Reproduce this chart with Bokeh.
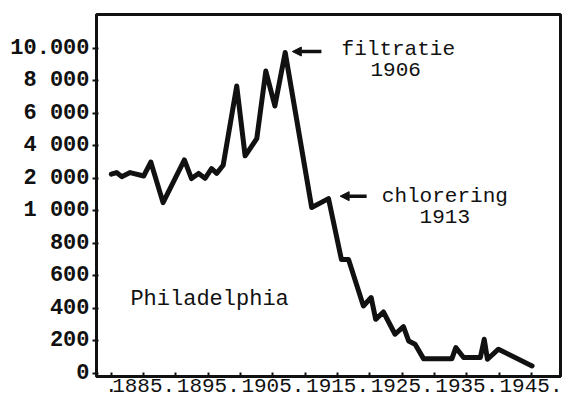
import numpy as np
from bokeh.plotting import figure
from bokeh.models import FixedTicker, Arrow, NormalHead, Label, ColumnDataSource, Range1d
from bokeh.embed import file_html
from bokeh.resources import INLINE

# --- data ---
years = [1880.0, 1880.8, 1881.6, 1882.9, 1885.0, 1886.1, 1888.0, 1891.3, 1892.4, 1893.5,
         1894.5, 1895.5, 1896.3, 1897.3, 1899.4, 1900.7, 1902.5, 1903.9, 1905.3, 1906.9,
         1911.0, 1913.6, 1915.6, 1916.7, 1919.0, 1920.2, 1920.9, 1922.1, 1923.9, 1925.2,
         1926.0, 1927.0, 1928.3, 1932.7, 1933.3, 1934.5, 1937.1, 1937.7, 1938.2, 1939.9,
         1945.1]
values = [2250, 2350, 2100, 2350, 2140, 3000, 1250, 3130, 1990, 2300,
          2000, 2600, 2300, 2800, 7680, 3380, 4440, 8600, 6450, 9740,
          1100, 1375, 700, 700, 414, 466, 332, 377, 240, 287,
          199, 178, 90, 90, 158, 97, 97, 209, 86, 148,
          45]

y_tick_values = [0, 200, 400, 600, 800, 1000, 2000, 4000, 6000, 8000, 10000]
y_tick_labels = ["0", "200", "400", "600", "800", "1 000", "2 000", "4 000", "6 000", "8 000", "10.000"]
x_tick_years = [1880, 1885, 1890, 1895, 1900, 1905, 1910, 1915, 1920, 1925, 1930, 1935, 1940, 1945]
x_label_years = [1885, 1895, 1905, 1915, 1925, 1935, 1945]

events = ["filtratie", "chlorering"]
event_years = ["1906", "1913"]
city = "Philadelphia"

# piecewise (evenly spaced) value scale of the original chart
y_index = list(range(len(y_tick_values)))
y_pos = np.interp(values, y_tick_values, y_index)

FONT = "Liberation Mono"
INK = "#111111"

p = figure(width=562, height=398, output_backend="svg", toolbar_location=None,
           x_range=Range1d(1877.7, 1949.5), y_range=Range1d(-0.1, 11.04),
           min_border_left=96, min_border_right=2, min_border_top=14, min_border_bottom=22)
p.background_fill_color = "white"
p.border_fill_color = "white"
p.grid.visible = False
p.outline_line_color = INK
p.outline_line_width = 3

src = ColumnDataSource(dict(x=years, y=y_pos))
p.line("x", "y", source=src, line_color=INK, line_width=5, line_join="round", line_cap="round")

# y axis
ya = p.yaxis[0]
ya.ticker = FixedTicker(ticks=y_index)
ya.major_label_overrides = {i: s for i, s in zip(y_index, y_tick_labels)}
ya.minor_tick_line_color = None
ya.axis_line_width = 3
ya.axis_line_color = INK
ya.major_tick_line_color = INK
ya.major_tick_line_width = 2
ya.major_tick_out = 4
ya.major_tick_in = 2
ya.major_label_standoff = 3
ya.major_label_text_font = FONT
ya.major_label_text_font_size = "22px"
ya.major_label_text_font_style = "bold"
ya.major_label_text_color = INK

# x axis
xa = p.xaxis[0]
xa.ticker = FixedTicker(ticks=x_tick_years)
overrides = {}
for yr in x_tick_years:
    if yr in x_label_years:
        overrides[yr] = f"{yr}."
    elif yr == x_tick_years[0]:
        overrides[yr] = "."
    else:
        overrides[yr] = ""
xa.major_label_overrides = overrides
xa.minor_tick_line_color = None
xa.axis_line_width = 3
xa.axis_line_color = INK
xa.major_tick_line_color = INK
xa.major_tick_line_width = 2
xa.major_tick_in = 4
xa.major_tick_out = 0
xa.major_label_standoff = 2
xa.major_label_text_font = FONT
xa.major_label_text_font_size = "21px"
xa.major_label_text_color = INK

# annotations
p.add_layout(Arrow(end=NormalHead(size=9, fill_color=INK, line_color=INK),
                   x_start=1912.5, y_start=9.9, x_end=1908.0, y_end=9.9,
                   line_width=3.5, line_color=INK))
p.add_layout(Label(x=1924.4, y=9.97, text=events[0], text_font=FONT, text_font_size="21px",
                   text_align="center", text_baseline="middle", text_color=INK))
p.add_layout(Label(x=1924.0, y=9.35, text=event_years[0], text_font=FONT, text_font_size="21px",
                   text_align="center", text_baseline="middle", text_color=INK))

p.add_layout(Arrow(end=NormalHead(size=9, fill_color=INK, line_color=INK),
                   x_start=1919.5, y_start=5.45, x_end=1915.4, y_end=5.45,
                   line_width=3.5, line_color=INK))
p.add_layout(Label(x=1931.6, y=5.45, text=events[1], text_font=FONT, text_font_size="21px",
                   text_align="center", text_baseline="middle", text_color=INK))
p.add_layout(Label(x=1931.6, y=4.83, text=event_years[1], text_font=FONT, text_font_size="21px",
                   text_align="center", text_baseline="middle", text_color=INK))

p.add_layout(Label(x=1895.2, y=2.28, text=city, text_font=FONT, text_font_size="22px",
                   text_align="center", text_baseline="middle", text_color=INK))

open("out.html", "w").write(file_html(p, INLINE))
